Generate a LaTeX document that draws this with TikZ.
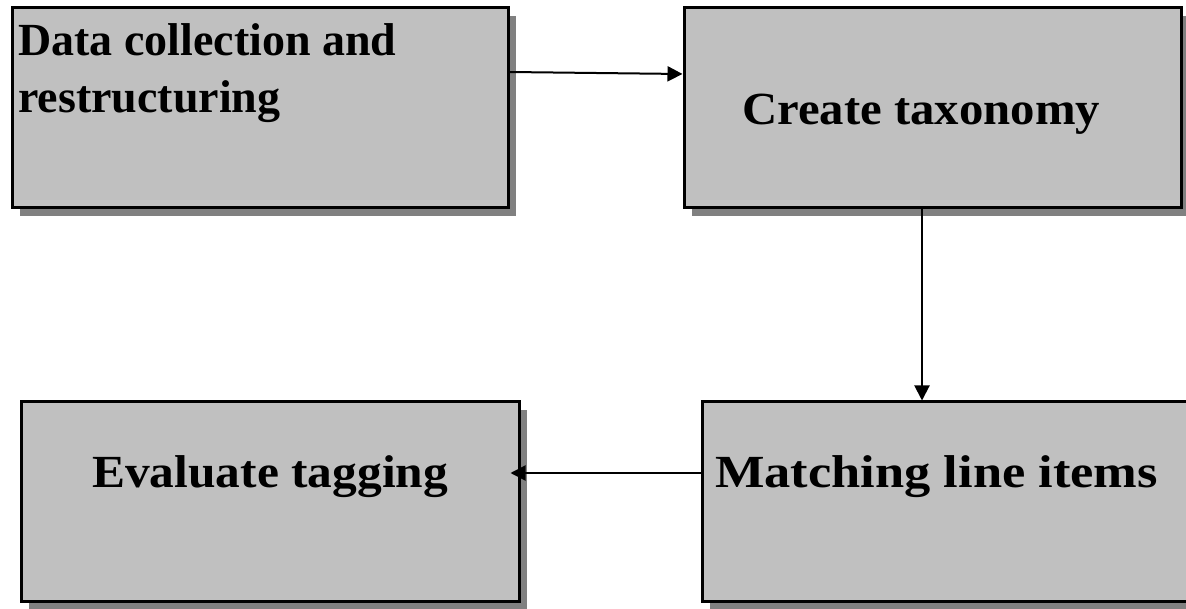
\documentclass[tikz,border=0pt]{standalone}
\usepackage{fontspec}
\setmainfont{Liberation Serif}
\usetikzlibrary{arrows.meta,shadows}
\definecolor{boxfill}{RGB}{192,192,192}
\definecolor{boxshadow}{RGB}{128,128,128}
\begin{document}
\begin{tikzpicture}[x=1pt,y=-1pt,
  stepbox/.style={draw=black,line width=3pt,fill=boxfill,minimum width=#1,minimum height=200pt,inner sep=0pt,
    drop shadow={shadow xshift=8pt,shadow yshift=-8pt,fill=boxshadow,opacity=1}},
  lbl/.style={font=\fontsize{46}{57}\selectfont\bfseries,anchor=base west,inner sep=0pt,transform shape},
  arr/.style={line width=2pt,-{Triangle[length=15pt,width=15pt]}}]
\useasboundingbox (0,0) rectangle (1186,609);
\node[stepbox=496pt] (b1) at (260,108) {};
\node[stepbox=497pt] (b2) at (932.5,108) {};
\node[stepbox=498pt,minimum height=199pt] (b3) at (270,501.5) {};
\node[stepbox=497pt,minimum height=199pt] (b4) at (950.5,501.5) {};
\node[lbl] (t1a) at (18,56) {Data collection and};
\node[lbl] (t1b) at (18,113) {restructuring};
\node[lbl,xscale=1.06] (t2) at (742,125) {Create taxonomy};
\node[lbl,xscale=1.075] (t3) at (92,487) {Evaluate tagging};
\node[lbl,xscale=1.14] (t4) at (715,487) {Matching line items};
\draw[arr] ([yshift=36pt]b1.east) -- ([yshift=34pt]b2.west);
\draw[arr] ([xshift=-10.5pt,yshift=3pt]b2.south) -- ([xshift=-28.5pt]b4.north);
\draw[arr] ([yshift=28.5pt]b4.west) -- ([yshift=28.5pt,xshift=-10pt]b3.east);
\end{tikzpicture}
\end{document}
